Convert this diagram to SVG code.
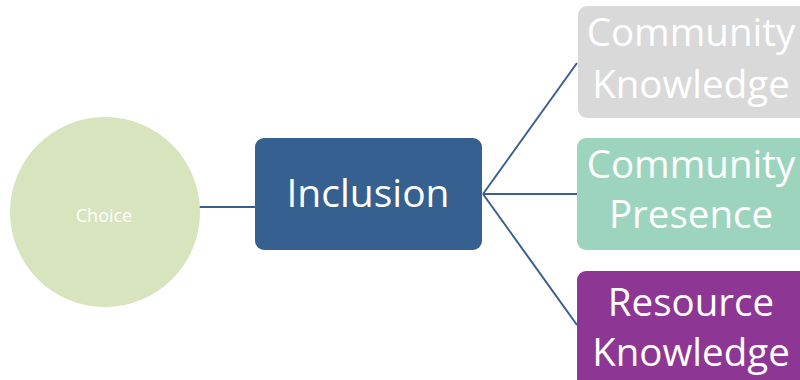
<svg xmlns="http://www.w3.org/2000/svg" width="800" height="380" viewBox="0 0 800 380">
<style>
text{font-family:"Open Sans","Noto Sans","Liberation Sans",sans-serif;fill:#ffffff;text-anchor:middle}
.big{font-size:38.5px}
.conn{stroke:#3A5F8E;stroke-width:2;fill:none}
</style>
<rect width="800" height="380" fill="#ffffff"/>
<g id="connectors">
<line class="conn" x1="199" y1="207" x2="256" y2="207"/>
<line class="conn" x1="483" y1="194" x2="577" y2="63"/>
<line class="conn" x1="483" y1="194" x2="578" y2="194"/>
<line class="conn" x1="483" y1="194" x2="577" y2="325"/>
</g>
<g id="choice">
<circle cx="105" cy="212" r="95" fill="#D7E4BD"/>
<text x="104" y="222" style="font-size:18px">Choice</text>
</g>
<g id="inclusion">
<rect x="255" y="138" width="227" height="112" rx="9" fill="#36608F"/>
<text x="368" y="207" style="font-size:39px">Inclusion</text>
</g>
<g id="community-knowledge">
<rect x="578" y="6" width="232" height="112" rx="9" fill="#D9D9D9"/>
<text class="big" x="691" y="46">Community</text>
<text class="big" x="691" y="98">Knowledge</text>
</g>
<g id="community-presence">
<rect x="577" y="138" width="233" height="112" rx="9" fill="#9DD4BD"/>
<text class="big" x="691" y="178">Community</text>
<text class="big" x="691" y="228">Presence</text>
</g>
<g id="resource-knowledge">
<rect x="577" y="271" width="233" height="120" rx="9" fill="#8E3693"/>
<text class="big" x="691" y="316">Resource</text>
<text class="big" x="691" y="366">Knowledge</text>
</g>
</svg>
